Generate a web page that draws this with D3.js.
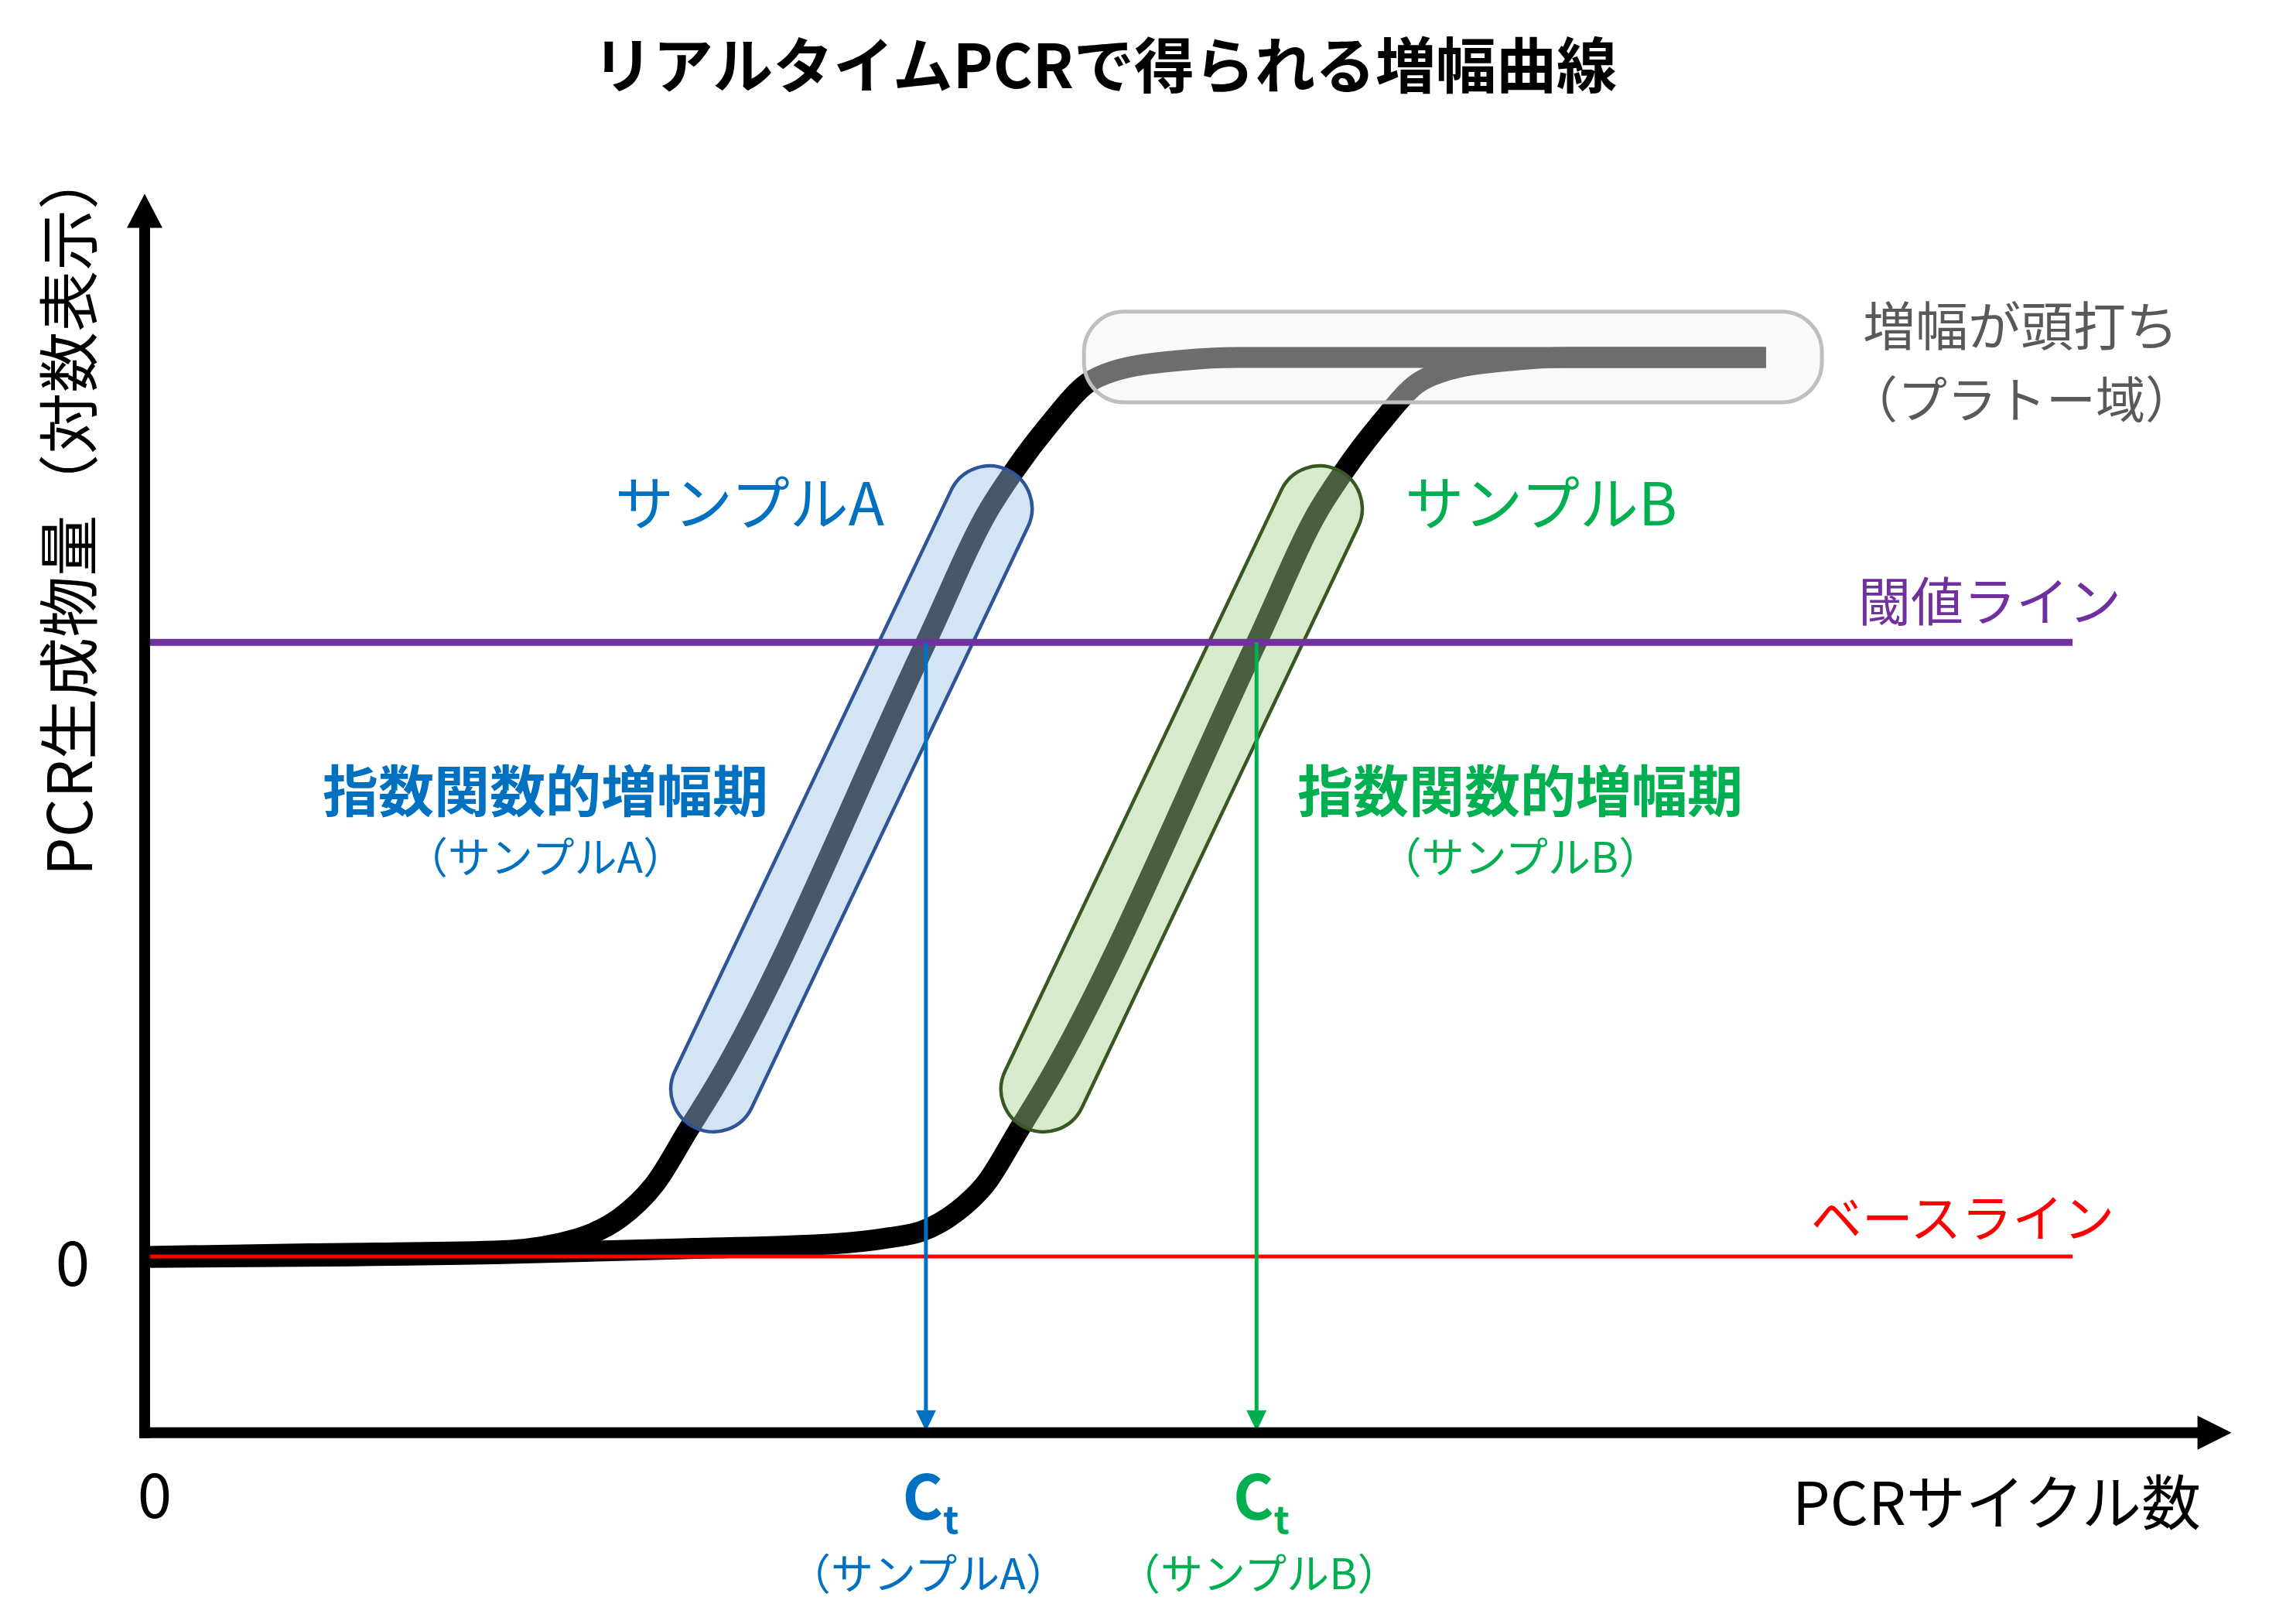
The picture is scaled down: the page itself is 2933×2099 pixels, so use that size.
<!DOCTYPE html>
<html><head><meta charset="utf-8">
<script src="https://cdn.jsdelivr.net/npm/d3@7"></script>
<style>html,body{margin:0;padding:0;background:#fff;} svg{display:block;}</style>
</head><body>
<svg id="chart" width="2933" height="2099"></svg>
<script>
// ---------- data ----------
const titleText = "リアルタイムPCRで得られる増幅曲線";
const yAxisTitle = "PCR生成物量（対数表示）";
const xAxisTitle = "PCRサイクル数";
const originLabel = "0";
const sampleNames = ["サンプルA", "サンプルB"];
const sampleSubLabels = ["（サンプルA）", "（サンプルB）"];
const sampleColors = ["#0070C0", "#00B050"];
const phaseLabel = "指数関数的増幅期";
const thresholdLabel = "閾値ライン";
const baselineLabel = "ベースライン";
const plateauLabels = ["増幅が頭打ち", "（プラトー域）"];

// curves: [cycle, log amount]
const curveA = [[0,0],[3.42,0.03],[7.27,0.06],[8.56,0.14],[9.26,0.25],[9.84,0.42],[10.59,0.81],[11.28,1.41],[11.80,1.86],[16.21,6.83],[17.53,8.32],[18.03,8.73],[18.78,9.26],[19.55,9.71],[20.06,9.84],[21.56,9.97],[22.68,10],[33.64,10]];
const curveB = [[0,-0.01],[7.27,0.03],[11.40,0.09],[14.27,0.14],[15.46,0.21],[16.12,0.28],[16.85,0.50],[17.45,0.81],[18.14,1.41],[18.65,1.86],[23.07,6.83],[24.38,8.32],[24.88,8.73],[25.63,9.26],[26.40,9.71],[26.92,9.84],[28.41,9.97],[29.53,10],[33.64,10]];
const thresholdValue = 6.83;
const baselineValue = 0;
const ctValues = [16.21, 23.07];
const exponentialPhases = [[[11.80,1.86],[17.53,8.32]], [[18.65,1.86],[24.38,8.32]]];
const plateauCycles = [19.49, 34.80];
const plateauLevels = [9.50, 10.51];
const lineEndCycle = 40;
const axisCycleMax = 43.3;
const axisValueMin = -1.96;
const axisValueMax = 11.82;

// ---------- scales ----------
const x = d3.scaleLinear().domain([0, 40]).range([187, 2679]);
const y = d3.scaleLinear().domain([0, 10]).range([1624, 462]);
const svg = d3.select("#chart");
const FONT = "'Noto Sans CJK JP', 'Noto Sans', sans-serif";
svg.append("rect").attr("width", 2933).attr("height", 2099).attr("fill", "#fff");

const line = d3.line().x(d => x(d[0])).y(d => y(d[1])).curve(d3.curveMonotoneX);

// curves
[curveA, curveB].forEach(c => {
  svg.append("path").datum(c).attr("d", line)
    .attr("fill", "none").attr("stroke", "#000").attr("stroke-width", 27)
    .attr("stroke-linejoin", "round");
});

// capsules for exponential phase
const capFills = ["#9DC3E6", "#A9D18E"];
const capStrokes = ["#2F5597", "#385723"];
exponentialPhases.forEach((p, i) => {
  const x1 = x(p[0][0]), y1 = y(p[0][1]), x2 = x(p[1][0]), y2 = y(p[1][1]);
  const len = Math.hypot(x2 - x1, y2 - y1);
  const ang = Math.atan2(y2 - y1, x2 - x1) * 180 / Math.PI;
  const r = 55;
  svg.append("rect")
    .attr("x", -len / 2 - r).attr("y", -r)
    .attr("width", len + 2 * r).attr("height", 2 * r).attr("rx", r)
    .attr("transform", `translate(${(x1 + x2) / 2},${(y1 + y2) / 2}) rotate(${ang})`)
    .attr("fill", capFills[i]).attr("fill-opacity", 0.45)
    .attr("stroke", capStrokes[i]).attr("stroke-width", 4.5);
});

// plateau box
svg.append("rect")
  .attr("x", x(plateauCycles[0])).attr("y", y(plateauLevels[1]))
  .attr("width", x(plateauCycles[1]) - x(plateauCycles[0]))
  .attr("height", y(plateauLevels[0]) - y(plateauLevels[1]))
  .attr("rx", 52)
  .attr("fill", "#F2F2F2").attr("fill-opacity", 0.45)
  .attr("stroke", "#BFBFBF").attr("stroke-width", 5);

// baseline
svg.append("line").attr("x1", x(0)).attr("x2", x(lineEndCycle))
  .attr("y1", y(baselineValue)).attr("y2", y(baselineValue))
  .attr("stroke", "#FF0000").attr("stroke-width", 5);

// threshold
svg.append("line").attr("x1", x(0)).attr("x2", x(lineEndCycle))
  .attr("y1", y(thresholdValue)).attr("y2", y(thresholdValue))
  .attr("stroke", "#7030A0").attr("stroke-width", 9);

// axes
const axisY = y(axisValueMin);
const ax0 = x(0);
// Ct arrows
ctValues.forEach((ct, i) => {
  const cx = x(ct);
  const tipY = axisY - 2;
  svg.append("line").attr("x1", cx).attr("x2", cx)
    .attr("y1", y(thresholdValue)).attr("y2", tipY - 24)
    .attr("stroke", sampleColors[i]).attr("stroke-width", 5);
  svg.append("path")
    .attr("d", `M${cx},${tipY} L${cx - 13},${tipY - 27} L${cx + 13},${tipY - 27} Z`)
    .attr("fill", sampleColors[i]);
});

svg.append("line").attr("x1", ax0).attr("x2", ax0)
  .attr("y1", axisY + 7).attr("y2", y(axisValueMax) + 40)
  .attr("stroke", "#000").attr("stroke-width", 14);
svg.append("path")
  .attr("d", `M${ax0},${y(axisValueMax)} L${ax0 - 23},${y(axisValueMax) + 44} L${ax0 + 23},${y(axisValueMax) + 44} Z`)
  .attr("fill", "#000");
svg.append("line").attr("x1", ax0 - 7).attr("x2", x(axisCycleMax) - 40)
  .attr("y1", axisY).attr("y2", axisY)
  .attr("stroke", "#000").attr("stroke-width", 14);
svg.append("path")
  .attr("d", `M${x(axisCycleMax)},${axisY} L${x(axisCycleMax) - 44},${axisY - 22} L${x(axisCycleMax) - 44},${axisY + 22} Z`)
  .attr("fill", "#000");

// ---------- text ----------
function txt(s, px, py, size, color, weight, anchor) {
  return svg.append("text").attr("x", px).attr("y", py)
    .attr("font-family", FONT).attr("font-size", size)
    .attr("font-weight", weight || "normal")
    .attr("fill", color).attr("text-anchor", anchor || "middle")
    .attr("dominant-baseline", "central").text(s);
}
txt(titleText, 1428, 80, 78, "#000", "bold");
svg.append("text").attr("transform", "translate(84,662) rotate(-90)")
  .attr("font-family", FONT).attr("font-size", 79).attr("fill", "#000")
  .attr("text-anchor", "middle").attr("dominant-baseline", "central").text(yAxisTitle);
txt(xAxisTitle, 2845, 1937, 77, "#000", "normal", "end");
txt(originLabel, 94, y(0) + 3, 80, "#000");
txt(originLabel, ax0 + 13, 1927, 80, "#000");

// sample labels
txt(sampleNames[0], 969, 646, 76, sampleColors[0]);
txt(sampleNames[1], 1992, 646, 76, sampleColors[1]);
txt(thresholdLabel, 2572, 773, 68, "#7030A0");
txt(baselineLabel, 2537, 1570, 66, "#FF0000");
txt(plateauLabels[0], 2612, 417, 68, "#595959");
txt(plateauLabels[1], 2613, 512, 64, "#595959");
// exponential phase labels
txt(phaseLabel, 705, 1017, 72, sampleColors[0], "bold");
txt(sampleSubLabels[0], 705, 1104, 55, sampleColors[0]);
txt(phaseLabel, 1965, 1017, 72, sampleColors[1], "bold");
txt(sampleSubLabels[1], 1965, 1104, 55, sampleColors[1]);

// Ct labels
ctValues.forEach((ct, i) => {
  const cx = x(ct) + 6;
  const t = svg.append("text").attr("x", cx).attr("y", axisY + 112)
    .attr("font-family", FONT).attr("fill", sampleColors[i])
    .attr("font-weight", "bold").attr("text-anchor", "middle");
  t.append("tspan").attr("font-size", 80).text("C");
  t.append("tspan").attr("font-size", 48).attr("dy", 18).text("t");
  txt(sampleSubLabels[i], x(ct) + 3, axisY + 178, 55, sampleColors[i]);
});
</script>
</body></html>
